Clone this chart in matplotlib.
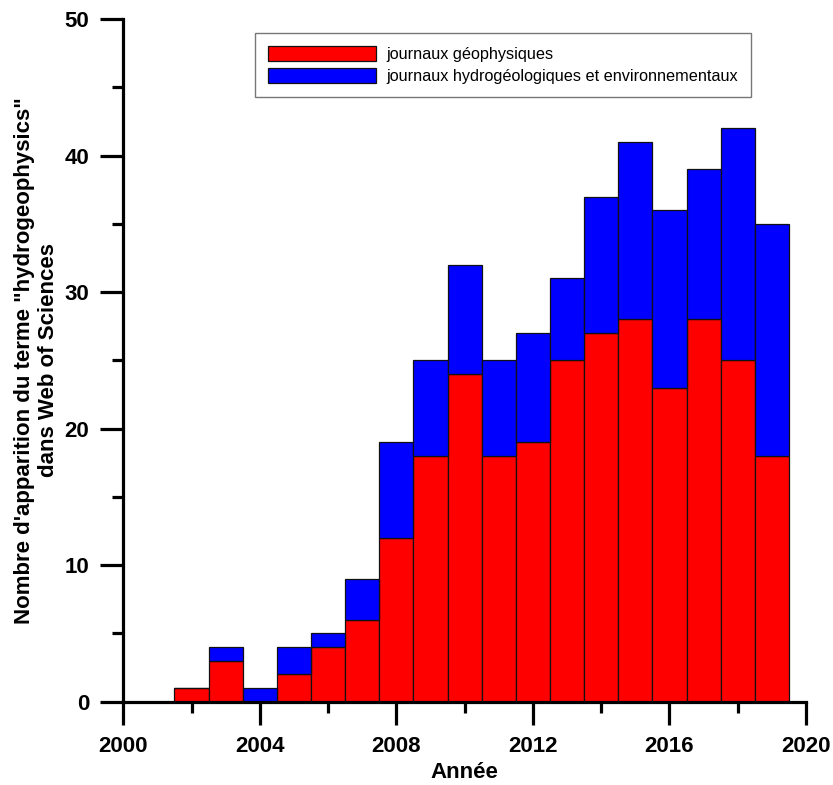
import matplotlib
matplotlib.use("Agg")
import matplotlib.pyplot as plt
from matplotlib.ticker import MultipleLocator

years = [2002, 2003, 2004, 2005, 2006, 2007, 2008, 2009, 2010, 2011,
         2012, 2013, 2014, 2015, 2016, 2017, 2018, 2019]
geophys = [1, 3, 0, 2, 4, 6, 12, 18, 24, 18, 19, 25, 27, 28, 23, 28, 25, 18]
totals = [1, 4, 1, 4, 5, 9, 19, 25, 32, 25, 27, 31, 37, 41, 36, 39, 42, 35]
hydro = [t - g for t, g in zip(totals, geophys)]

labels = ["journaux géophysiques", "journaux hydrogéologiques et environnementaux"]

plt.rcParams['font.family'] = ['Liberation Sans', 'DejaVu Sans']

fig = plt.figure(figsize=(8.33, 7.85), dpi=100)
ax = fig.add_axes([0.148, 0.1061, 0.8196, 0.8697])

ax.bar(years, geophys, width=1.0, color='#ff0000', edgecolor='#111111',
       linewidth=0.9, label=labels[0])
ax.bar(years, hydro, width=1.0, bottom=geophys, color='#0000ff',
       edgecolor='#111111', linewidth=0.9, label=labels[1])

ax.set_xlim(2000, 2020)
ax.set_ylim(0, 50)
ax.xaxis.set_major_locator(MultipleLocator(4))
ax.xaxis.set_minor_locator(MultipleLocator(2))
ax.yaxis.set_major_locator(MultipleLocator(10))
ax.yaxis.set_minor_locator(MultipleLocator(5))

for s in ['top', 'right']:
    ax.spines[s].set_visible(False)
for s in ['left', 'bottom']:
    ax.spines[s].set_linewidth(2.3)

ax.tick_params(axis='both', which='major', direction='out', length=16.5,
               width=2.3, labelsize=16, pad=8)
ax.tick_params(axis='both', which='minor', direction='out', length=8,
               width=2.3)
for lab in ax.get_xticklabels() + ax.get_yticklabels():
    lab.set_fontweight('bold')

ax.set_xlabel("Année", fontsize=16, fontweight='bold', labelpad=4)
ax.set_ylabel("Nombre d'apparition du terme \"hydrogeophysics\"\ndans Web of Sciences",
              fontsize=16, fontweight='bold', labelpad=4, linespacing=1.2)

leg = ax.legend(loc='upper left', bbox_to_anchor=(0.193, 0.9795), fontsize=11.7,
                frameon=True, fancybox=False, edgecolor='#555555',
                handlelength=6.67, handleheight=1.09, borderpad=0.8,
                labelspacing=0.35, handletextpad=0.6, borderaxespad=0)
leg.get_frame().set_linewidth(1.0)

fig.savefig("out.png", dpi=100)
